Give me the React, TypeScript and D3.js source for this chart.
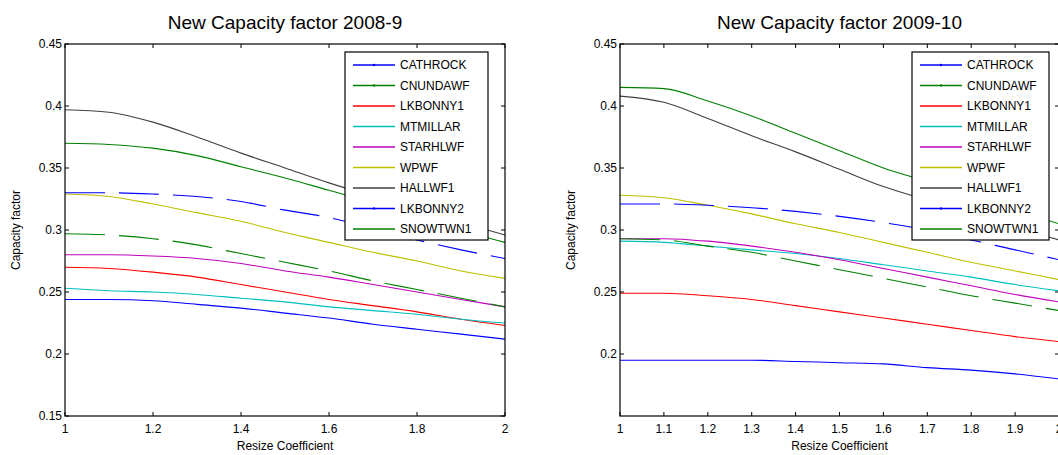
import React from "react";
import * as d3 from "d3";

const xs = [1, 1.1, 1.2, 1.3, 1.4, 1.5, 1.6, 1.7, 1.8, 1.9, 2];
const names = ["CATHROCK", "CNUNDAWF", "LKBONNY1", "MTMILLAR", "STARHLWF", "WPWF", "HALLWF1", "LKBONNY2", "SNOWTWN1"];
const colors = ["#0000ff", "#008000", "#ff0000", "#00bfbf", "#bf00bf", "#bfbf00", "#404040", "#0000ff", "#008000"];
const dashed = [false, false, false, false, false, false, false, true, true];

const left08 = [
  [.244, .244, .243, .240, .237, .233, .229, .224, .220, .216, .212],
  [.370, .369, .366, .360, .351, .342, .332, .322, .312, .300, .290],
  [.270, .269, .266, .262, .256, .250, .244, .239, .234, .228, .223],
  [.253, .251, .250, .248, .245, .242, .238, .235, .232, .228, .225],
  [.280, .280, .279, .277, .273, .267, .262, .256, .250, .244, .238],
  [.329, .327, .321, .314, .307, .298, .290, .282, .275, .267, .261],
  [.397, .395, .387, .375, .362, .350, .338, .327, .316, .306, .296],
  [.330, .330, .329, .327, .323, .316, .310, .301, .292, .284, .277],
  [.297, .296, .293, .288, .281, .274, .267, .259, .252, .245, .238],
];
const right09 = [
  [.195, .195, .195, .195, .194, .193, .192, .189, .187, .184, .180],
  [.415, .414, .404, .392, .378, .364, .350, .339, .327, .316, .305],
  [.249, .249, .247, .244, .239, .234, .229, .224, .219, .214, .210],
  [.291, .290, .287, .284, .281, .277, .272, .267, .262, .256, .251],
  [.293, .293, .291, .287, .282, .276, .269, .262, .255, .248, .242],
  [.328, .326, .320, .313, .305, .298, .290, .282, .274, .267, .260],
  [.408, .403, .390, .376, .363, .349, .335, .324, .313, .302, .292],
  [.321, .321, .320, .318, .315, .311, .306, .300, .292, .284, .276],
  [.293, .292, .287, .282, .275, .268, .261, .254, .247, .241, .235],
];
const leftXTicks = [1, 1.2, 1.4, 1.6, 1.8, 2];
const rightXTicks = [1, 1.1, 1.2, 1.3, 1.4, 1.5, 1.6, 1.7, 1.8, 1.9, 2];
const leftYTicks = [0.15, 0.2, 0.25, 0.3, 0.35, 0.4, 0.45];
const rightYTicks = [0.2, 0.25, 0.3, 0.35, 0.4, 0.45];

const F = "Arial, 'Liberation Sans', sans-serif";

function Panel({ x0, x1, title, data, xt, yt, lx, lw }: any) {
  const x = d3.scaleLinear().domain([1, 2]).range([x0, x1]);
  const y = d3.scaleLinear().domain([0.15, 0.45]).range([416, 44]);
  const line = d3.line<number>().x((_, i) => x(xs[i])).y((v) => y(v)).curve(d3.curveMonotoneX);
  const fmt = (v: number) => String(+v.toFixed(2));
  return (
    <g fontFamily={F}>
      <text x={(x0 + x1) / 2} y={29} textAnchor="middle" fontSize={19}>{title}</text>
      {data.map((s: number[], i: number) => (
        <path key={i} d={line(s) || ""} fill="none" stroke={colors[i]} strokeWidth={1.1}
          strokeDasharray={dashed[i] ? "40,14" : undefined} />
      ))}
      <rect x={x0} y={44} width={x1 - x0} height={372} fill="none" stroke="#000" strokeWidth={1.2} />
      {xt.map((t: number) => (
        <g key={t}>
          <line x1={x(t)} x2={x(t)} y1={416} y2={412} stroke="#000" />
          <line x1={x(t)} x2={x(t)} y1={44} y2={48} stroke="#000" />
          <text x={x(t)} y={433} textAnchor="middle" fontSize={12}>{fmt(t)}</text>
        </g>
      ))}
      {yt.map((t: number) => (
        <g key={t}>
          <line x1={x0} x2={x0 + 4} y1={y(t)} y2={y(t)} stroke="#000" />
          <line x1={x1} x2={x1 - 4} y1={y(t)} y2={y(t)} stroke="#000" />
          <text x={x0 - 3} y={y(t) + 4} textAnchor="end" fontSize={12}>{fmt(t)}</text>
        </g>
      ))}
      <text x={(x0 + x1) / 2} y={450} textAnchor="middle" fontSize={12}>Resize Coefficient</text>
      <text transform={`translate(${x0 - 45},${230}) rotate(-90)`} textAnchor="middle" fontSize={12}>Capacity factor</text>
      <rect x={lx} y={52} width={lw} height={188} fill="#fff" stroke="#000" strokeWidth={1.2} />
      {names.map((n, i) => {
        const ly = 65 + i * 20.5;
        return (
          <g key={n}>
            <line x1={lx + 8} x2={lx + 50} y1={ly} y2={ly} stroke={colors[i]} strokeWidth={1.5} />
            {i < 2 || i === 7 ? <circle cx={lx + 29} cy={ly} r={1.2} fill={colors[i]} /> : null}
            <text x={lx + 55} y={ly + 4} fontSize={12}>{n}</text>
          </g>
        );
      })}
    </g>
  );
}

export default function App() {
  return (
    <svg width={1058} height={455} style={{ position: "absolute", left: 0, top: 0, background: "#fff" }}>
      <Panel x0={65} x1={505} title="New Capacity factor 2008-9" data={left08} xt={leftXTicks} yt={leftYTicks} lx={345} lw={143} />
      <Panel x0={620} x1={1059} title="New Capacity factor 2009-10" data={right09} xt={rightXTicks} yt={rightYTicks} lx={912} lw={137} />
    </svg>
  );
}
